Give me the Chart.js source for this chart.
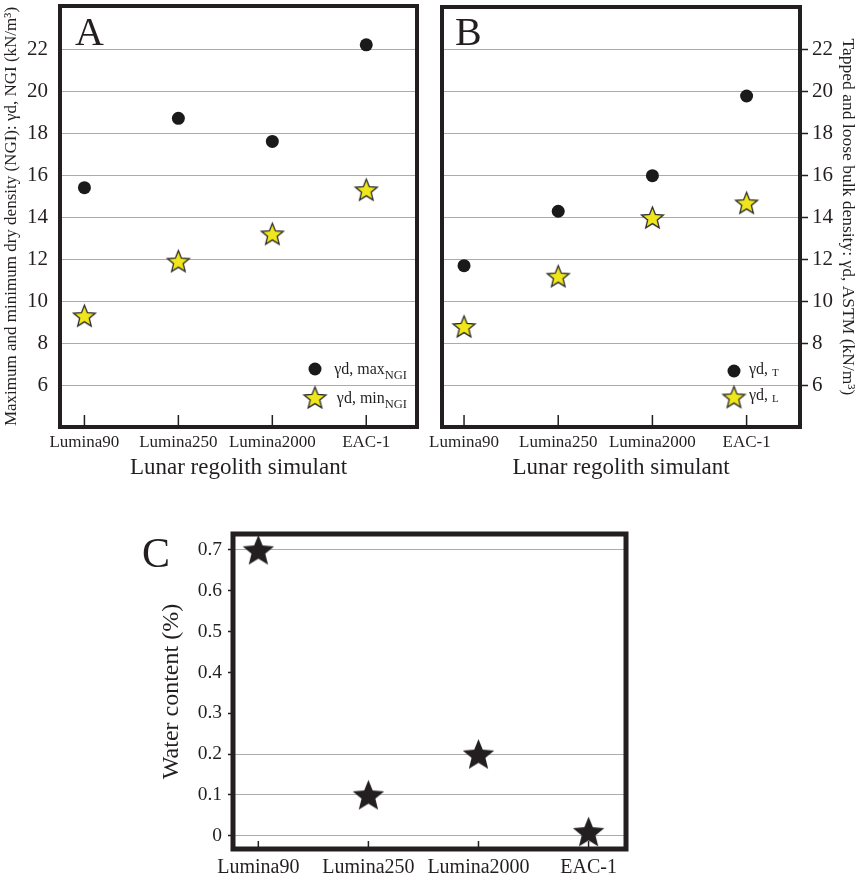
<!DOCTYPE html>
<html><head><meta charset="utf-8">
<script src="https://cdn.jsdelivr.net/npm/chart.js@4/dist/chart.umd.min.js"></script>
<style>
html,body{margin:0;padding:0;background:#fff;width:858px;height:876px;overflow:hidden;}
canvas{position:absolute;}
</style></head><body>
<canvas id="cA" width="420" height="490" style="left:0;top:0"></canvas>
<canvas id="cB" width="438" height="490" style="left:420px;top:0"></canvas>
<canvas id="cC" width="520" height="376" style="left:130px;top:500px"></canvas>
<script>
// ---- data ----
const categories = ['Lumina90', 'Lumina250', 'Lumina2000', 'EAC-1'];
const maxNGI = [15.4, 18.7, 17.6, 22.2];
const minNGI = [9.3, 11.9, 13.2, 15.3];
const tappedT = [11.7, 14.3, 16.0, 19.8];
const looseL = [8.8, 11.2, 14.0, 14.7];
const waterContent = [0.70, 0.10, 0.20, 0.01];
const densityTicks = [6, 8, 10, 12, 14, 16, 18, 20, 22];
const waterTicks = [0, 0.1, 0.2, 0.3, 0.4, 0.5, 0.6, 0.7];
const waterGridValues = [0, 0.1, 0.2, 0.7];

const serif = "'Liberation Serif','Times New Roman',serif";
const ink = '#231f20';
Chart.defaults.font.family = serif;
Chart.defaults.color = ink;

function pts(arr){ return arr.map((v,i)=>({x:i, y:v})); }

function makeStar(R, fill, stroke, lw){
  const pad = Math.ceil(lw) + 1;
  const s = Math.ceil(2*R + 2*pad);
  const c = document.createElement('canvas'); c.width = s; c.height = s;
  const g = c.getContext('2d');
  const cx = s/2, cy = s/2 + R*0.09;
  g.beginPath();
  for (let k=0;k<10;k++){
    const r = k%2===0 ? R : R*0.44;
    const a = -Math.PI/2 + k*Math.PI/5;
    g.lineTo(cx + r*Math.cos(a), cy + r*Math.sin(a));
  }
  g.closePath();
  g.fillStyle = fill; g.fill();
  if (lw > 0){ g.lineWidth = lw; g.strokeStyle = stroke; g.lineJoin = 'miter'; g.stroke(); }
  return c;
}
const starYellow = makeStar(11.5, '#efe61c', '#2a2a2a', 1.3);
const starBlack = makeStar(16.5, ink, ink, 0);

function noPad(s){ s.paddingTop = 0; s.paddingBottom = 0; s.paddingLeft = 0; s.paddingRight = 0; }

const framePlugin = {
  id: 'frame',
  afterDraw(chart, args, o){
    const {ctx, chartArea: a, scales} = chart;
    ctx.save();
    ctx.strokeStyle = ink; ctx.lineWidth = 1.5;
    categories.forEach((c,i)=>{
      const x = scales.x.getPixelForValue(i);
      ctx.beginPath(); ctx.moveTo(x, a.bottom); ctx.lineTo(x, a.bottom - o.tickLen); ctx.stroke();
    });
    ctx.lineWidth = o.border;
    ctx.strokeRect(a.left, a.top, a.right - a.left, a.bottom - a.top);
    ctx.fillStyle = ink;
    ctx.textBaseline = 'alphabetic'; ctx.textAlign = 'left';
    ctx.font = o.letterSize + 'px ' + serif;
    ctx.fillText(o.letter, a.left + o.letterDx, a.top + o.letterDy);
    const lg = o.legend;
    if (lg){
      lg.rows.forEach(r => {
        const ds = chart.data.datasets[r.ds];
        const mx = a.right + lg.markerDx, my = a.bottom + r.dy;
        if (typeof ds.pointStyle === 'object'){
          const im = ds.pointStyle;
          ctx.drawImage(im, mx - im.width/2, my - im.height/2);
        } else {
          ctx.beginPath(); ctx.arc(mx, my, ds.pointRadius, 0, Math.PI*2);
          ctx.fillStyle = ds.backgroundColor; ctx.fill();
        }
        ctx.fillStyle = ink;
        const by = my + lg.baseOff;
        ctx.font = lg.subSize + 'px ' + serif;
        const subW = ctx.measureText(r.sub).width;
        if (lg.align === 'right'){
          const x0 = a.right + lg.textDx;
          ctx.textAlign = 'left';
          ctx.fillText(r.sub, x0 - subW, by + lg.subOff);
          ctx.font = lg.mainSize + 'px ' + serif;
          ctx.textAlign = 'right';
          ctx.fillText(r.main, x0 - subW, by);
        } else {
          const x0 = a.right + lg.textDx;
          ctx.font = lg.mainSize + 'px ' + serif;
          ctx.textAlign = 'left';
          ctx.fillText(r.main, x0, by);
          const mw = ctx.measureText(r.main).width;
          ctx.font = lg.subSize + 'px ' + serif;
          ctx.fillText(r.sub, x0 + mw, by + lg.subOff);
        }
      });
    }
    ctx.restore();
  }
};

function catAxis(min, max, fontSize, pad, height, title){
  return {
    type: 'linear', min: min, max: max,
    afterBuildTicks: s => { s.ticks = categories.map((c,i)=>({value:i})); },
    ticks: { callback: v => categories[v], font: {size: fontSize}, padding: pad, autoSkip: false, maxRotation: 0, color: ink },
    grid: { display: false, drawTicks: false },
    border: { display: false },
    title: title ? { display: true, text: title, font: {size: 23}, color: ink, padding: {top: 0, bottom: 8} } : { display: false },
    afterFit: s => { s.height = height; noPad(s); }
  };
}

const baseOpts = {
  responsive: false, animation: false, devicePixelRatio: 1,
};

// ---- Panel A ----
new Chart(document.getElementById('cA'), {
  type: 'scatter',
  data: { datasets: [
    { label: 'γd, max NGI', data: pts(maxNGI), pointStyle: 'circle', pointRadius: 6.5, backgroundColor: '#1a1a1a', borderColor: '#1a1a1a', borderWidth: 0 },
    { label: 'γd, min NGI', data: pts(minNGI), pointStyle: starYellow, pointRadius: 11, backgroundColor: '#efe61c', borderColor: '#2a2a2a' }
  ]},
  options: Object.assign({}, baseOpts, {
    layout: { autoPadding: false, padding: { top: 6, right: 3, left: 0, bottom: 0 } },
    plugins: {
      legend: { display: false }, tooltip: { enabled: false },
      frame: { tickLen: 12, border: 4, letter: 'A', letterSize: 40, letterDx: 15, letterDy: 39,
        legend: { align: 'right', markerDx: -102, textDx: -10, mainSize: 16, subSize: 12.5, baseOff: 5, subOff: 5,
          rows: [ { ds: 0, dy: -58, main: 'γd, max', sub: 'NGI' }, { ds: 1, dy: -29.5, main: 'γd, min', sub: 'NGI' } ] } }
    },
    scales: {
      x: catAxis(-0.26, 3.54, 17, 5, 63, 'Lunar regolith simulant'),
      y: {
        min: 4, max: 24.05,
        afterBuildTicks: s => { s.ticks = densityTicks.map(v=>({value:v})); },
        ticks: { font: {size: 21}, padding: 12, color: ink },
        grid: { color: '#ababab', lineWidth: 1, drawTicks: false },
        border: { display: false },
        title: { display: true, text: 'Maximum and minimum dry density (NGI): γd, NGI (kN/m³)', font: {size: 17}, color: ink, padding: {top: 1, bottom: 0} },
        afterFit: s => { s.width = 60; noPad(s); }
      }
    }
  }),
  plugins: [framePlugin]
});

// ---- Panel B ----
new Chart(document.getElementById('cB'), {
  type: 'scatter',
  data: { datasets: [
    { label: 'γd, T', data: pts(tappedT), pointStyle: 'circle', pointRadius: 6.5, backgroundColor: '#1a1a1a', borderColor: '#1a1a1a', borderWidth: 0 },
    { label: 'γd, L', data: pts(looseL), pointStyle: starYellow, pointRadius: 11, backgroundColor: '#efe61c', borderColor: '#2a2a2a' }
  ]},
  options: Object.assign({}, baseOpts, {
    layout: { autoPadding: false, padding: { top: 7, right: 0, left: 22, bottom: 0 } },
    plugins: {
      legend: { display: false }, tooltip: { enabled: false },
      frame: { tickLen: 12, border: 4, letter: 'B', letterSize: 40, letterDx: 13, letterDy: 38,
        legend: { align: 'left', markerDx: -66, textDx: -51, mainSize: 16, subSize: 11, baseOff: 3, subOff: 1.5,
          rows: [ { ds: 0, dy: -56, main: 'γd, ', sub: 'T' }, { ds: 1, dy: -30, main: 'γd, ', sub: 'L' } ] } }
    },
    scales: {
      x: catAxis(-0.234, 3.567, 17, 5, 63, 'Lunar regolith simulant'),
      y: {
        position: 'right',
        min: 4, max: 24.05,
        afterBuildTicks: s => { s.ticks = densityTicks.map(v=>({value:v})); },
        ticks: { font: {size: 21}, padding: 4, color: ink },
        grid: { color: '#ababab', lineWidth: 1, drawTicks: true, tickLength: 8, tickColor: ink, tickWidth: 1.5 },
        border: { display: false },
        title: { display: true, text: 'Tapped and loose bulk density: γd, ASTM (kN/m³)', font: {size: 17.5}, color: ink, padding: {top: 0, bottom: 0} },
        afterFit: s => { s.width = 58; noPad(s); }
      }
    }
  }),
  plugins: [framePlugin]
});

// ---- Panel C ----
new Chart(document.getElementById('cC'), {
  type: 'scatter',
  data: { datasets: [
    { label: 'Water content', data: pts(waterContent), pointStyle: starBlack, pointRadius: 16, backgroundColor: ink, borderColor: ink }
  ]},
  options: Object.assign({}, baseOpts, {
    layout: { autoPadding: false, padding: { top: 34, right: 24, left: 0, bottom: 0 } },
    plugins: {
      legend: { display: false }, tooltip: { enabled: false },
      frame: { tickLen: 8, border: 5, letter: 'C', letterSize: 42, letterDx: -91, letterDy: 33 }
    },
    scales: {
      x: catAxis(-0.23, 3.34, 20, 7, 27, null),
      y: {
        min: -0.0325, max: 0.739,
        afterBuildTicks: s => { s.ticks = waterTicks.map(v=>({value:v})); },
        ticks: { font: {size: 19.5}, padding: 6, color: ink, callback: v => v === 0 ? '0' : v.toFixed(1) },
        grid: {
          color: c => waterGridValues.some(g => Math.abs(g - c.tick.value) < 1e-9) ? '#ababab' : 'rgba(0,0,0,0)',
          lineWidth: 1, drawTicks: true, tickLength: 5, tickColor: ink, tickWidth: 1.5
        },
        border: { display: false },
        title: { display: true, text: 'Water content (%)', font: {size: 24}, color: ink, padding: {top: 27.6, bottom: 0} },
        afterFit: s => { s.width = 103; noPad(s); }
      }
    }
  }),
  plugins: [framePlugin]
});
</script>
</body></html>
